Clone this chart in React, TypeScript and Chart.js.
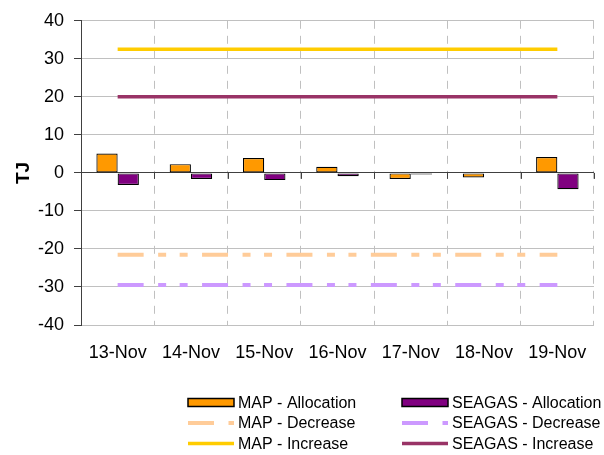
import React, { useEffect, useRef } from "react";
import { Chart, registerables } from "chart.js";

Chart.register(...registerables);

const categories = ["13-Nov", "14-Nov", "15-Nov", "16-Nov", "17-Nov", "18-Nov", "19-Nov"];
const mapAllocation = [5.1, 2.3, 3.9, 1.6, -1.6, -1.2, 4.2];
const seagasAllocation = [-3.2, -1.6, -1.9, -0.9, -0.4, 0, -4.3];
const mapDecrease = [-21.5, -21.5, -21.5, -21.5, -21.5, -21.5, -21.5];
const seagasDecrease = [-29.5, -29.5, -29.5, -29.5, -29.5, -29.5, -29.5];
const mapIncrease = [32.5, 32.5, 32.5, 32.5, 32.5, 32.5, 32.5];
const seagasIncrease = [20, 20, 20, 20, 20, 20, 20];
const yTicks = [-40, -30, -20, -10, 0, 10, 20, 30, 40];

const FONT = "'Liberation Sans', Arial, sans-serif";
const DASH = [26, 14.5, 8, 13.5, 8, 14.4];

const legendPlugin = {
  id: "customLegend",
  afterDraw(chart: any) {
    const ctx = chart.ctx;
    const area = chart.chartArea;
    const yScale = chart.scales.y;
    const y0 = yScale.getPixelForValue(0);
    ctx.save();
    ctx.strokeStyle = "#404040";
    ctx.lineWidth = 1;
    const n = categories.length;
    for (let i = 0; i <= n; i++) {
      const x = Math.round(area.left + (i * (area.right - area.left)) / n) + 0.5;
      ctx.beginPath();
      ctx.moveTo(x, y0);
      ctx.lineTo(x, y0 + 6);
      ctx.stroke();
    }
    ctx.restore();

    const colX = [188, 402];
    const textX = [238, 452];
    const rowY = [402.5, 423, 443.5];
    ctx.save();
    ctx.font = `16px ${FONT}`;
    ctx.textBaseline = "middle";
    ctx.fillStyle = "#000";
    chart.data.datasets.forEach((ds: any, i: number) => {
      const col = i < 3 ? 0 : 1;
      const row = i % 3;
      const x = colX[col];
      const y = rowY[row];
      if (ds.type === "line") {
        ctx.save();
        ctx.strokeStyle = ds.borderColor;
        ctx.lineWidth = ds.borderWidth;
        ctx.setLineDash(ds.borderDash || []);
        ctx.beginPath();
        ctx.moveTo(x, y);
        ctx.lineTo(x + 46, y);
        ctx.stroke();
        ctx.restore();
      } else {
        ctx.save();
        ctx.fillStyle = ds.backgroundColor;
        ctx.fillRect(x, y - 4, 46, 8);
        ctx.strokeStyle = "#000";
        ctx.lineWidth = 1.5;
        ctx.strokeRect(x, y - 4, 46, 8);
        ctx.restore();
      }
      ctx.fillStyle = "#000";
      ctx.fillText(ds.label, textX[col], y + 1);
    });
    ctx.restore();
  },
};

export default function App() {
  const ref = useRef<HTMLCanvasElement>(null);
  useEffect(() => {
    if (!ref.current) return;
    const chart = new Chart(ref.current, {
      type: "bar",
      data: {
        labels: categories,
        datasets: [
          {
            type: "bar",
            label: "MAP - Allocation",
            data: mapAllocation,
            backgroundColor: "#FF9900",
            borderColor: "#000000",
            borderWidth: 1.2,
            borderSkipped: false,
            categoryPercentage: 0.58,
            barPercentage: 1,
            order: 2,
          } as any,
          {
            type: "line",
            label: "MAP - Decrease",
            data: mapDecrease,
            borderColor: "#FFCC99",
            borderWidth: 4,
            borderDash: DASH,
            pointRadius: 0,
            fill: false,
            order: 1,
          },
          {
            type: "line",
            label: "MAP - Increase",
            data: mapIncrease,
            borderColor: "#FFCC00",
            borderWidth: 3.5,
            pointRadius: 0,
            fill: false,
            order: 1,
          },
          {
            type: "bar",
            label: "SEAGAS - Allocation",
            data: seagasAllocation,
            backgroundColor: "#800080",
            borderColor: "#000000",
            borderWidth: 1.2,
            borderSkipped: false,
            categoryPercentage: 0.58,
            barPercentage: 1,
            order: 2,
          } as any,
          {
            type: "line",
            label: "SEAGAS - Decrease",
            data: seagasDecrease,
            borderColor: "#CC99FF",
            borderWidth: 4,
            borderDash: DASH,
            pointRadius: 0,
            fill: false,
            order: 1,
          },
          {
            type: "line",
            label: "SEAGAS - Increase",
            data: seagasIncrease,
            borderColor: "#993366",
            borderWidth: 3.5,
            pointRadius: 0,
            fill: false,
            order: 1,
          },
        ],
      },
      options: {
        responsive: false,
        animation: false,
        devicePixelRatio: 1,
        layout: { padding: { top: 17, right: 9, left: 0, bottom: 0 } },
        plugins: { legend: { display: false }, tooltip: { enabled: false } },
        scales: {
          x: {
            offset: true,
            grid: {
              offset: true,
              color: "#c0c0c0",
              drawTicks: false,
            },
            border: { display: false, dash: [8, 7] },
            ticks: {
              font: { family: FONT, size: 18 },
              color: "#000",
              padding: 17,
              maxRotation: 0,
            },
            afterFit(scale: any) {
              scale.height = 130;
            },
          },
          y: {
            min: -40,
            max: 40,
            afterBuildTicks(scale: any) {
              scale.ticks = yTicks.map((v) => ({ value: v }));
            },
            grid: {
              color: (c: any) => (c.tick && c.tick.value === 0 ? "#404040" : "#c0c0c0"),
              tickColor: "#404040",
              tickLength: 7,
            },
            border: { color: "#404040", width: 1 },
            ticks: {
              font: { family: FONT, size: 18 },
              color: "#000",
              padding: 10,
            },
            title: {
              display: true,
              text: "TJ",
              font: { family: FONT, size: 19, weight: "bold" },
              color: "#000",
              padding: { top: 12, bottom: 0 },
            },
            afterFit(scale: any) {
              scale.width = 81;
            },
          },
        },
      },
      plugins: [legendPlugin],
    });
    return () => chart.destroy();
  }, []);
  return (
    <div style={{ position: "absolute", left: 0, top: 0, width: 604, height: 455, background: "#fff" }}>
      <canvas ref={ref} width={604} height={455} style={{ display: "block" }} />
    </div>
  );
}
